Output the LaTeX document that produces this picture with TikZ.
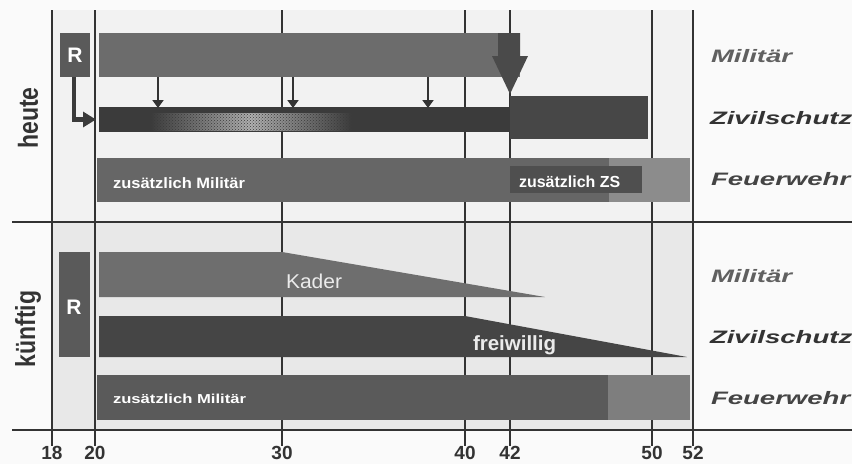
\documentclass[tikz,border=0pt]{standalone}
\usepackage{fontspec}
\usepackage{graphicx}
\setmainfont{Liberation Sans}
\usetikzlibrary{arrows.meta,patterns}
\definecolor{bgc}{HTML}{FAFAFA}
\definecolor{bgtop}{HTML}{F2F2F2}
\definecolor{bgbot}{HTML}{E8E8E8}
\definecolor{linec}{HTML}{333333}
\definecolor{milc}{HTML}{6C6C6C}
\definecolor{rc}{HTML}{5A5A5A}
\definecolor{zsdark}{HTML}{3B3B3B}
\definecolor{zstwo}{HTML}{474747}
\definecolor{fwc}{HTML}{666666}
\definecolor{fwl}{HTML}{8C8C8C}
\definecolor{zsboxc}{HTML}{4F4F4F}
\definecolor{bigc}{HTML}{4A4A4A}
\definecolor{kaderc}{HTML}{6E6E6E}
\definecolor{freic}{HTML}{454545}
\definecolor{fwbc}{HTML}{5A5A5A}
\definecolor{fwbl}{HTML}{7E7E7E}
\definecolor{labc}{HTML}{444444}
\newcommand\fsz[1]{\fontsize{#1}{#1}\selectfont}
\begin{document}
\begin{tikzpicture}[x=1pt,y=-1pt,
  bar/.style={rectangle,inner sep=0pt,outer sep=0pt,anchor=north west},
  txt/.style={inner sep=0pt,outer sep=0pt},
  vline/.style={draw=linec,line width=1.8pt},
  hline/.style={draw=linec,line width=2.8pt},
  sarrow/.style={draw=linec,line width=2.4pt,-{Triangle[length=8pt,width=11pt]}},
  rarrow/.style={draw=zsdark,line width=4.5pt,-{Triangle[length=13pt,width=15pt]}},
  wtext/.style={txt,text=white,font=\bfseries},
  rlab/.style={txt,anchor=base west,font=\fsz{18}\bfseries\itshape},
  numlab/.style={txt,anchor=base,font=\fsz{19}\bfseries,text=linec},
  side/.style={txt,font=\fsz{23}\bfseries,text=linec}]
\useasboundingbox (0,0) rectangle (852,464);
\fill[bgc] (0,0) rectangle (852,464);
\fill[bgtop] (52,10) rectangle (693,221);
\fill[bgbot] (52,223) rectangle (693,429);
% grid lines
\foreach \xx/\lab in {52/18,95/20,282/30,465/40,510/42,652/50,693/52}{
  \draw[vline] (\xx,10) -- (\xx,446);
  \node[numlab] (n\lab) at (\xx,459.5) {\lab};
}
\draw[hline] (12,222) -- (852,222);
\draw[hline,line width=2.4pt] (12,430) -- (852,430);
% ---------- heute ----------
\node[bar,fill=rc,minimum width=30pt,minimum height=44pt] (Rt) at (60,33) {};
\node[wtext,font=\fsz{21}\bfseries] (Rtl) at (Rt.center) {R};
\node[bar,fill=milc,minimum width=421pt,minimum height=44pt] (milT) at (99,33) {};
\node[bar,fill=zsdark,minimum width=411pt,minimum height=25pt] (zsT) at (99,107) {};
\shade[left color=zsdark,right color=zsdark,middle color=gray!62] (150,113) rectangle (352,130);
\fill[pattern=crosshatch dots,pattern color=zsdark] (150,113) rectangle (352,130);
\node[bar,fill=zstwo,minimum width=138pt,minimum height=43pt] (zsT2) at (510,96) {};
\node[bar,fill=fwc,minimum width=593pt,minimum height=44pt] (fwT) at (97,158) {};
\node[bar,fill=fwl,minimum width=81pt,minimum height=44pt] (fwTl) at (609,158) {};
\node[bar,fill=zsboxc,minimum width=132pt,minimum height=27pt] (zsbox) at (510,166) {};
\node[wtext,anchor=base west,font=\fsz{16}\bfseries] (zszl) at (519,187) {zusätzlich ZS};
\node[wtext,anchor=base west,font=\fsz{15}\bfseries] (fwTt) at (113,188) {\scalebox{1.1}[1]{zusätzlich Militär}};
% big arrow
\fill[bigc] (498,33) -- (520,33) -- (520,56) -- (528,56) -- (510,94) -- (492,56) -- (498,56) -- cycle;
% small arrows
\path (158,0) coordinate (xa) (293,0) coordinate (xb) (428,0) coordinate (xc);
\foreach \c in {xa,xb,xc}{
  \draw[sarrow] (milT.south -| \c) -- ([yshift=-1pt]zsT.north -| \c);
}
\draw[rarrow,shorten >=3pt] ([xshift=-1pt]Rt.south) |- (zsT.west);
% ---------- künftig ----------
\node[bar,fill=rc,minimum width=31pt,minimum height=105pt] (Rb) at (59,252) {};
\node[wtext,font=\fsz{21}\bfseries] (Rbl) at (74,307) {R};
\fill[kaderc] (99,252) -- (282,252) -- (545,297) -- (99,297) -- cycle;
\node[txt,anchor=base west,font=\fsz{20},text=white!92!black] (kad) at (286,288) {\scalebox{1.05}[1]{Kader}};
\fill[freic] (99,316) -- (465,316) -- (687,357) -- (99,357) -- cycle;
\node[txt,anchor=base west,font=\fsz{20.5}\bfseries,text=white!92!black] (frw) at (473,350) {freiwillig};
\node[bar,fill=fwbc,minimum width=593pt,minimum height=45pt] (fwB) at (97,375) {};
\node[bar,fill=fwbl,minimum width=82pt,minimum height=45pt] (fwBl) at (608,375) {};
\node[wtext,anchor=base west,font=\fsz{13}\bfseries] (fwBt) at (113,403) {\scalebox{1.28}[1]{zusätzlich Militär}};
% side labels
\node[side] (heute) at (28,118) {\scalebox{1.2}[1]{\rotatebox{90}{heute}}};
\node[side] (kuenftig) at (28,329) {\scalebox{1.2}[1]{\rotatebox{90}{künftig}}};
% right labels
\node[rlab,text=gray!75!black] (r1) at (711,62) {\scalebox{1.53}[1]{Militär}};
\node[rlab,text=linec] (r2) at (710,124) {\scalebox{1.53}[1]{Zivilschutz}};
\node[rlab,text=labc] (r3) at (711,185) {\scalebox{1.53}[1]{Feuerwehr}};
\node[rlab,text=gray!75!black] (r4) at (711,282) {\scalebox{1.53}[1]{Militär}};
\node[rlab,text=linec] (r5) at (710,343) {\scalebox{1.53}[1]{Zivilschutz}};
\node[rlab,text=labc] (r6) at (711,404) {\scalebox{1.53}[1]{Feuerwehr}};
\end{tikzpicture}
\end{document}
